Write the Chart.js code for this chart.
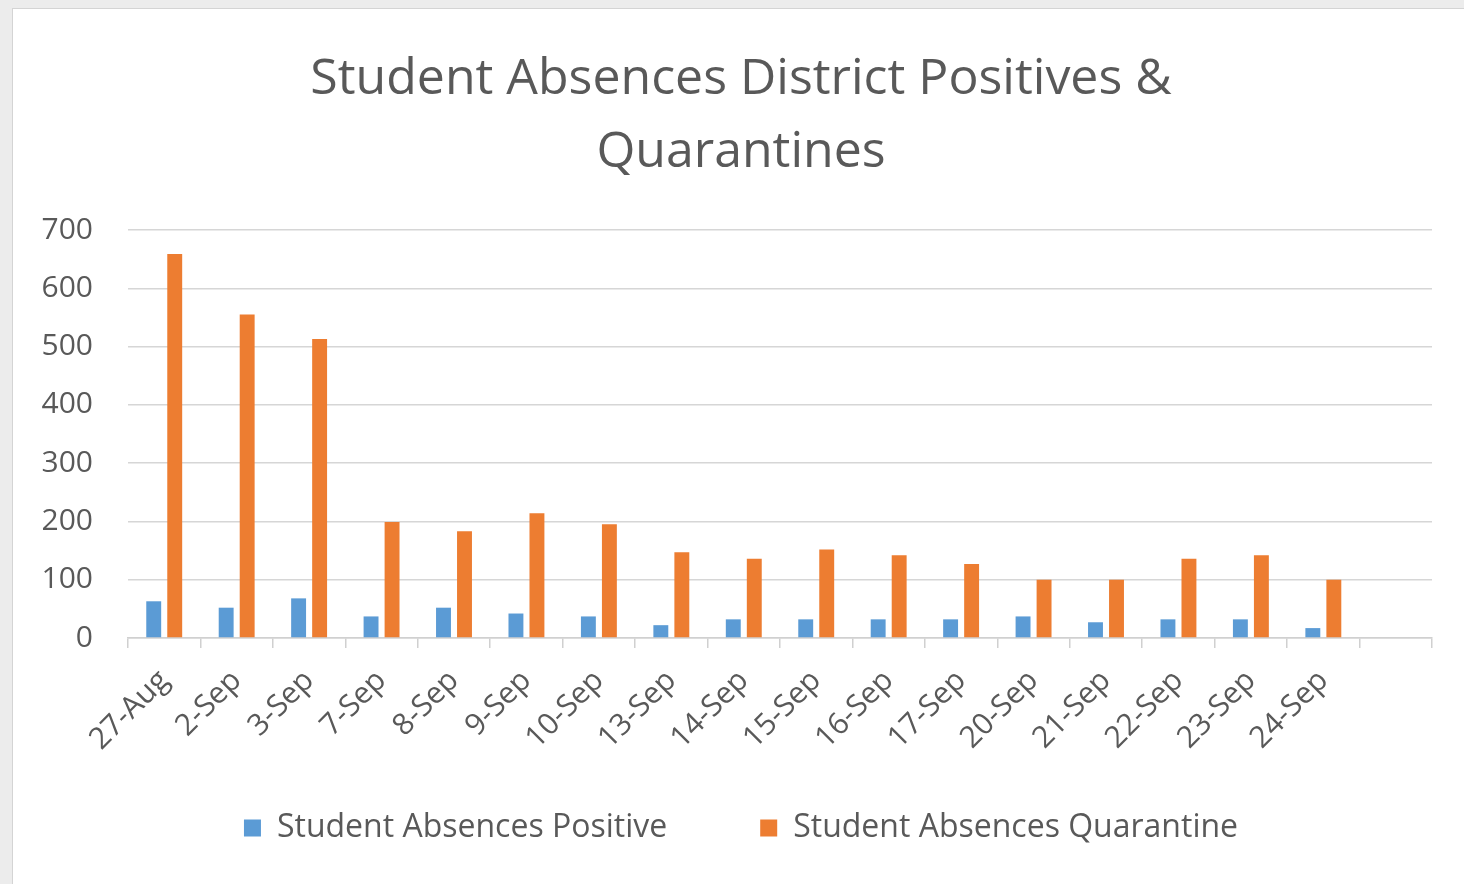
<!DOCTYPE html>
<html>
<head>
<meta charset="utf-8">
<script src="https://cdn.jsdelivr.net/npm/chart.js@4.4.0/dist/chart.umd.min.js"></script>
<style>
  html, body { margin: 0; padding: 0; background: #ececec; }
  #frame { position: absolute; left: 12px; top: 8px; width: 1460px; height: 880px; background: #ffffff; border-left: 1px solid #d4d4d4; border-top: 1px solid #d4d4d4; }
  #wrap { position: absolute; left: 0; top: 0; width: 1464px; height: 884px; }
</style>
</head>
<body>
<div id="frame"></div>
<div id="wrap"><canvas id="c" width="1464" height="884"></canvas></div>
<script>
const categories = ["27-Aug","2-Sep","3-Sep","7-Sep","8-Sep","9-Sep","10-Sep","13-Sep","14-Sep","15-Sep","16-Sep","17-Sep","20-Sep","21-Sep","22-Sep","23-Sep","24-Sep",""];
const positive = [63, 52, 68, 37, 52, 42, 37, 22, 32, 32, 32, 32, 37, 27, 32, 32, 17, null];
const quarantine = [659, 555, 513, 199, 183, 214, 195, 147, 136, 152, 142, 127, 100, 100, 136, 142, 100, null];
const yTicks = [0, 100, 200, 300, 400, 500, 600, 700];

const FONT = "'Open Sans', Lato, sans-serif";
const TXT = '#595959';
const LEGEND_GAP = 93;

// move the legend row and centre the title, after the library has laid out the boxes
const layoutTweak = {
  id: 'layoutTweak',
  afterLayout(chart) {
    const lg = chart.legend;
    if (lg) {
      lg.top = 812 - LEGEND_GAP;
      lg.bottom = chart.height;
      lg.height = lg.bottom - lg.top;
      lg.left += 20;
      lg.right += 20;
    }
    const tb = chart.titleBlock;
    if (tb) {
      tb.left = 50;
    }
  }
};

new Chart(document.getElementById('c'), {
  type: 'bar',
  data: {
    labels: categories,
    datasets: [
      { label: 'Student Absences Positive', data: positive, backgroundColor: '#5b9bd5', categoryPercentage: 0.58, barPercentage: 0.71 },
      { label: 'Student Absences Quarantine', data: quarantine, backgroundColor: '#ed7d31', categoryPercentage: 0.58, barPercentage: 0.71 }
    ]
  },
  plugins: [layoutTweak],
  options: {
    responsive: false,
    animation: false,
    devicePixelRatio: 1,
    layout: { padding: { top: 20, left: 10, right: 32, bottom: 26 } },
    plugins: {
      title: {
        display: true,
        text: ['Student Absences District Positives &', 'Quarantines'],
        color: TXT,
        font: { family: FONT, size: 50, weight: 'normal', lineHeight: 1.46 },
        padding: { top: 23, bottom: 41 }
      },
      legend: {
        position: 'bottom',
        maxHeight: 80,
        labels: {
          color: TXT,
          font: { family: FONT, size: 32 },
          boxWidth: 17,
          boxHeight: 17,
          padding: LEGEND_GAP
        }
      },
      tooltip: { enabled: false }
    },
    scales: {
      x: {
        grid: { offset: true, drawOnChartArea: false, tickLength: 10, color: '#d0d0d0', lineWidth: 1.5 },
        border: { color: '#d0d0d0', width: 1.5 },
        ticks: { color: TXT, font: { family: FONT, size: 30 }, minRotation: 45, maxRotation: 45, padding: 15, autoSkip: false },
        afterFit: (s) => { s.height = 140; }
      },
      y: {
        min: 0, max: 700,
        afterBuildTicks: (s) => { s.ticks = yTicks.map(v => ({ value: v })); },
        grid: { color: '#d6d6d6', lineWidth: 1.5, drawTicks: false },
        border: { display: false },
        ticks: { color: TXT, font: { family: FONT, size: 30 }, padding: 35 },
        afterFit: (s) => { s.width = 118; }
      }
    }
  }
});
</script>
</body>
</html>
